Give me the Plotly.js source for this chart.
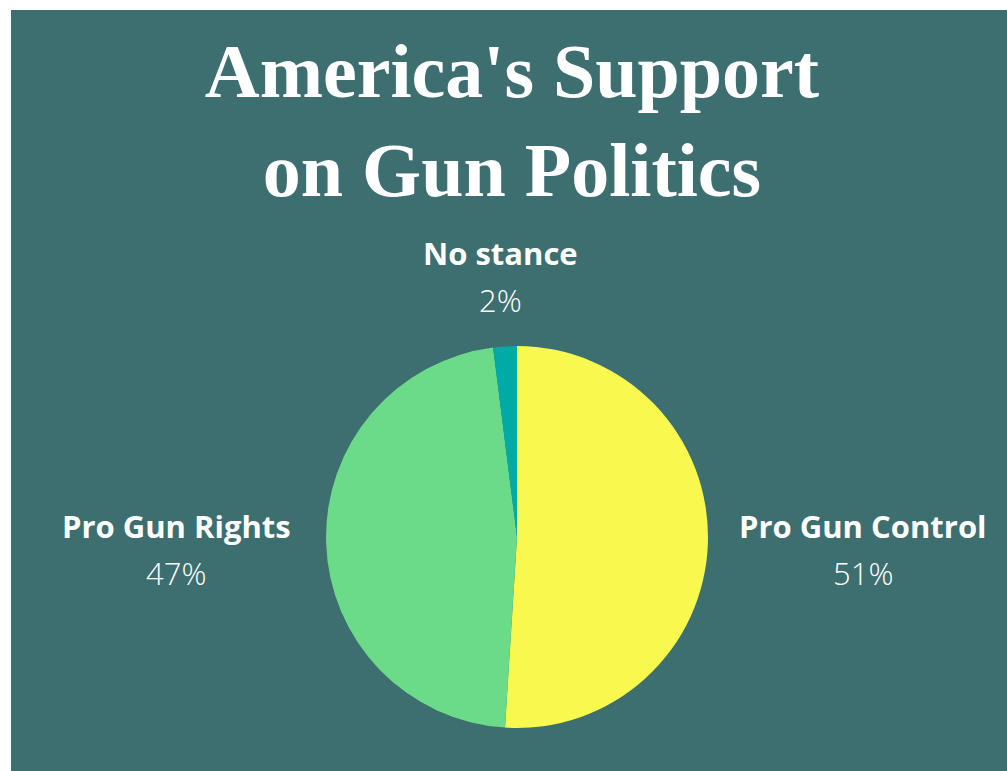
<!DOCTYPE html>
<html>
<head>
<meta charset="utf-8">
<script src="https://cdn.plot.ly/plotly-3.0.1.min.js"></script>
<style>
html, body { margin: 0; padding: 0; background: #ffffff; }
#chart { position: absolute; left: 11px; top: 10px; width: 996px; height: 761px; }
</style>
</head>
<body>
<div id="chart"></div>
<script>
const labels = ["Pro Gun Control", "Pro Gun Rights", "No stance"];
const values = [51, 47, 2];
const colors = ["#f8f84e", "#6cdb89", "#00aaa6"];
const titleText = "America's Support<br>on Gun Politics";

// label placement (paper coords) for each slice's outside label
const labelPos = [
  {x: 0.8554, y: 0.322},
  {x: 0.1657, y: 0.322},
  {x: 0.491,  y: 0.681}
];
const pctOffset = 0.062;

const annotations = [];
labels.forEach((lab, i) => {
  annotations.push({
    xref: "paper", yref: "paper", x: labelPos[i].x, y: labelPos[i].y,
    xanchor: "center", yanchor: "middle", showarrow: false,
    text: lab,
    font: {family: "Open Sans", size: 31, color: "#ffffff", weight: 700}
  });
  annotations.push({
    xref: "paper", yref: "paper", x: labelPos[i].x, y: labelPos[i].y - pctOffset,
    xanchor: "center", yanchor: "middle", showarrow: false,
    text: values[i] + "%",
    font: {family: "Open Sans", size: 31, color: "#ffffff", weight: 300}
  });
});

const data = [{
  type: "pie",
  labels: labels,
  values: values,
  sort: false,
  direction: "clockwise",
  rotation: 0,
  textinfo: "none",
  hoverinfo: "label+percent",
  marker: {colors: colors, line: {width: 0}},
  domain: {x: [0.3163, 0.6998], y: [0.0565, 0.5585]},
  showlegend: false
}];

const layout = {
  width: 996, height: 761,
  margin: {l: 0, r: 0, t: 0, b: 0},
  paper_bgcolor: "#3d6e70",
  plot_bgcolor: "#3d6e70",
  showlegend: false,
  title: {
    text: titleText,
    x: 0.503, xref: "paper", xanchor: "center",
    y: 0.886, yref: "paper", yanchor: "middle",
    font: {family: "Liberation Serif", size: 76, color: "#ffffff", weight: 700}
  },
  annotations: annotations
};

Plotly.newPlot("chart", data, layout, {displayModeBar: false, staticPlot: true});
</script>
</body>
</html>
